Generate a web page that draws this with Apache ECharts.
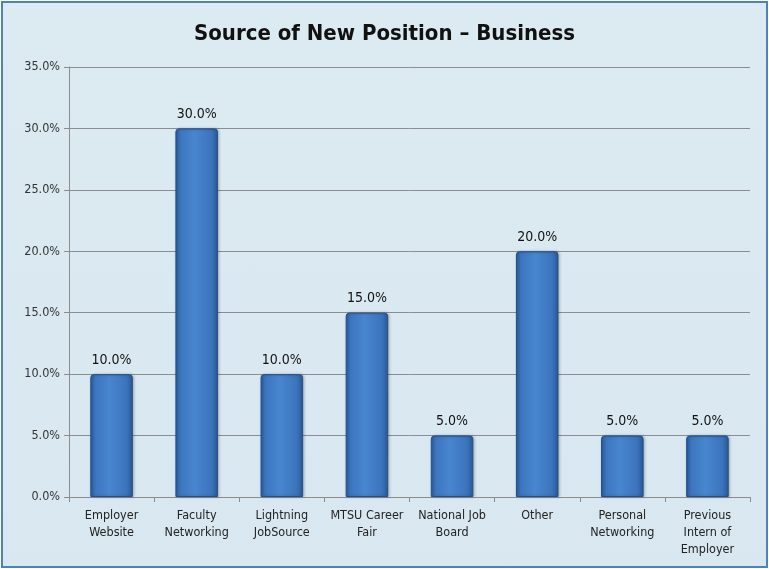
<!DOCTYPE html>
<html>
<head>
<meta charset="utf-8">
<script src="https://cdn.jsdelivr.net/npm/echarts@6/dist/echarts.min.js"></script>
<style>
  html, body { margin: 0; padding: 0; background: #ffffff; }
  #frame {
    position: absolute; left: 1px; top: 1px; width: 763px; height: 563px;
    border: 2px solid #4f81bd; box-sizing: content-box;
    background: linear-gradient(180deg, #dcebf2 0%, #d9e8f0 100%);
  }
  #chart { width: 763px; height: 563px; }
</style>
</head>
<body>
<div id="frame"><div id="chart"></div></div>
<script>
// Share of new positions by source, Business graduates
const categories = [
  'Employer\nWebsite',
  'Faculty\nNetworking',
  'Lightning\nJobSource',
  'MTSU Career\nFair',
  'National Job\nBoard',
  'Other',
  'Personal\nNetworking',
  'Previous\nIntern of\nEmployer'
];
const shares = [10.0, 30.0, 10.0, 15.0, 5.0, 20.0, 5.0, 5.0];
const yTicks = [0, 5, 10, 15, 20, 25, 30, 35];

const narrow = "'DejaVu Sans Condensed', 'Liberation Sans Narrow', 'Arial Narrow', sans-serif";

const chart = echarts.init(document.getElementById('chart'), null, { renderer: 'canvas' });

const barFill = new echarts.graphic.LinearGradient(0, 0, 1, 0, [
  { offset: 0.0, color: '#2c5e9f' },
  { offset: 0.12, color: '#3c76bf' },
  { offset: 0.45, color: '#4886d0' },
  { offset: 0.85, color: '#3b74bc' },
  { offset: 1.0, color: '#2a5894' }
]);

chart.setOption({
  backgroundColor: 'transparent',
  animation: false,
  title: {
    text: 'Source of New Position \u2013 Business',
    left: 'center',
    top: 15,
    textStyle: { fontFamily: narrow, fontSize: 22, fontWeight: 'bold', color: '#111111' }
  },
  grid: { left: 66, right: 16, top: 64, bottom: 69, containLabel: false },
  xAxis: {
    type: 'category',
    data: categories,
    axisLine: { show: true, lineStyle: { color: '#8c8c8c', width: 1 } },
    axisTick: { show: true, length: 5, lineStyle: { color: '#8c8c8c' }, alignWithLabel: false },
    axisLabel: {
      interval: 0, margin: 10, color: '#222222',
      fontFamily: narrow, fontSize: 12.5, lineHeight: 17
    }
  },
  yAxis: {
    type: 'value',
    min: yTicks[0],
    max: yTicks[yTicks.length - 1],
    interval: 5,
    axisLine: { show: true, lineStyle: { color: '#8c8c8c', width: 1 } },
    axisTick: { show: true, length: 5, lineStyle: { color: '#8c8c8c' } },
    splitLine: { show: true, lineStyle: { color: '#8a8e92', width: 1 } },
    axisLabel: {
      margin: 9, color: '#333333', fontFamily: narrow, fontSize: 12.5,
      formatter: v => v.toFixed(1) + '%'
    }
  },
  series: [{
    type: 'bar',
    data: shares,
    barWidth: '50%',
    itemStyle: {
      color: barFill,
      borderColor: '#24508a',
      borderWidth: 1,
      borderRadius: [3, 3, 0, 0],
      shadowColor: 'rgba(0,0,0,0.25)',
      shadowBlur: 3,
      shadowOffsetX: 1,
      shadowOffsetY: 0
    },
    label: {
      show: true,
      position: 'top',
      distance: 7,
      color: '#111111',
      fontFamily: narrow,
      fontSize: 14,
      formatter: p => p.value.toFixed(1) + '%'
    }
  }]
});
</script>
</body>
</html>
